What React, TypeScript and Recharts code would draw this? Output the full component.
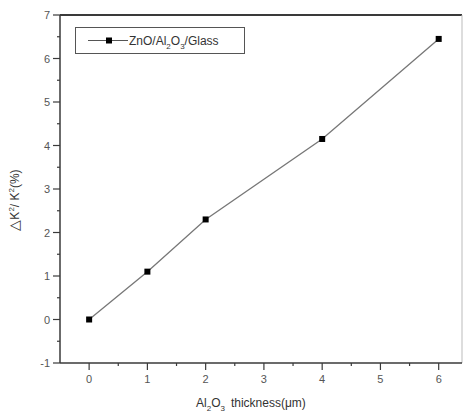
import { Line, LineChart, ReferenceLine, XAxis, YAxis } from 'recharts';

const thickness = [0, 1, 2, 4, 6];
const deltaK = [0, 1.1, 2.3, 4.15, 6.45];
const xTicks = [0, 0.5, 1, 1.5, 2, 2.5, 3, 3.5, 4, 4.5, 5, 5.5, 6];
const yTicks = [-1, -0.5, 0, 0.5, 1, 1.5, 2, 2.5, 3, 3.5, 4, 4.5, 5, 5.5, 6, 6.5, 7];

const chartData = thickness.map((t, i) => ({ t, dk: deltaK[i] }));

const FONT = '"Liberation Sans", Arial, sans-serif';
const AXIS = '#3a3a3a';
const LABEL = '#555';

function XTick({ x, y, payload }: any) {
  const major = Number.isInteger(payload.value);
  return (
    <g>
      <line x1={x} x2={x} y1={y} y2={y + (major ? 7 : 3)} stroke={AXIS} strokeWidth={1.2} />
      {major && (
        <text x={x} y={y + 20} textAnchor="middle" fontSize={11} fontFamily={FONT} fill={LABEL}>
          {payload.value}
        </text>
      )}
    </g>
  );
}

function YTick({ x, y, payload }: any) {
  const major = Number.isInteger(payload.value);
  return (
    <g>
      <line x1={x - (major ? 7 : 3)} x2={x} y1={y} y2={y} stroke={AXIS} strokeWidth={1.2} />
      {major && (
        <text x={x - 10} y={y + 4} textAnchor="end" fontSize={11} fontFamily={FONT} fill={LABEL}>
          {payload.value}
        </text>
      )}
    </g>
  );
}

function SquareDot({ cx, cy }: any) {
  return <rect x={cx - 3} y={cy - 3} width={6} height={6} fill="#000" />;
}

function LegendBox() {
  return (
    <div
      style={{
        position: 'absolute',
        left: 75,
        top: 27,
        width: 170,
        height: 27,
        border: '1px solid #555',
        boxSizing: 'border-box',
        background: '#fff',
      }}
    >
      <svg width={168} height={25} style={{ display: 'block' }}>
        <line x1={12} x2={52} y1={12.5} y2={12.5} stroke="#555" strokeWidth={1.2} />
        <rect x={30} y={9.5} width={6} height={6} fill="#000" />
        <text x={53} y={17} fontSize={12} fontFamily={FONT} fill="#333">
          ZnO/Al
          <tspan dy={4} fontSize={8}>2</tspan>
          <tspan dy={-4}>O</tspan>
          <tspan dy={4} fontSize={8}>3</tspan>
          <tspan dy={-4}>/Glass</tspan>
        </text>
      </svg>
    </div>
  );
}

export default function App() {
  return (
    <div style={{ position: 'absolute', left: 0, top: 0, width: 464, height: 414, background: '#fff' }}>
      <LineChart width={464} height={414} data={chartData} margin={{ top: 15, right: 2, left: 0, bottom: 0 }}>
        <XAxis
          type="number"
          dataKey="t"
          domain={[-0.5, 6.4]}
          ticks={xTicks}
          interval={0}
          allowDataOverflow
          tickSize={0}
          tickMargin={0}
          tick={<XTick />}
          height={51}
          stroke={AXIS}
          strokeWidth={1.5}
          label={{
            content: () => (
              <text x={196} y={407} fontSize={12} fontFamily={FONT} fill="#333">
                Al
                <tspan dy={4} fontSize={8}>2</tspan>
                <tspan dy={-4}>O</tspan>
                <tspan dy={4} fontSize={8}>3</tspan>
                <tspan dy={-4} dx={6}>{'thickness(\u03bcm)'}</tspan>
              </text>
            ),
          }}
        />
        <YAxis
          type="number"
          domain={[-1, 7]}
          ticks={yTicks}
          interval={0}
          allowDataOverflow
          tickSize={0}
          tickMargin={0}
          tick={<YTick />}
          width={60}
          stroke={AXIS}
          strokeWidth={1.5}
          label={{
            content: () => (
              <text
                transform="translate(19, 200) rotate(-90)"
                textAnchor="middle"
                fontSize={12}
                fontFamily={FONT}
                fill="#333"
              >
                <tspan fontSize={14}>{'\u25b3'}</tspan>
                <tspan>K</tspan>
                <tspan dy={-5} fontSize={8}>2</tspan>
                <tspan dy={5}>{'/ K'}</tspan>
                <tspan dy={-5} fontSize={8}>2</tspan>
                <tspan dy={5}>(%)</tspan>
              </text>
            ),
          }}
        />
        <ReferenceLine y={7} stroke={AXIS} strokeWidth={2} ifOverflow="visible" />
        <ReferenceLine x={6.4} stroke="#bbb" strokeWidth={1} ifOverflow="visible" />
        <Line
          type="linear"
          dataKey="dk"
          stroke="#777"
          strokeWidth={1.3}
          dot={<SquareDot />}
          activeDot={false}
          isAnimationActive={false}
        />
      </LineChart>
      <LegendBox />
    </div>
  );
}
